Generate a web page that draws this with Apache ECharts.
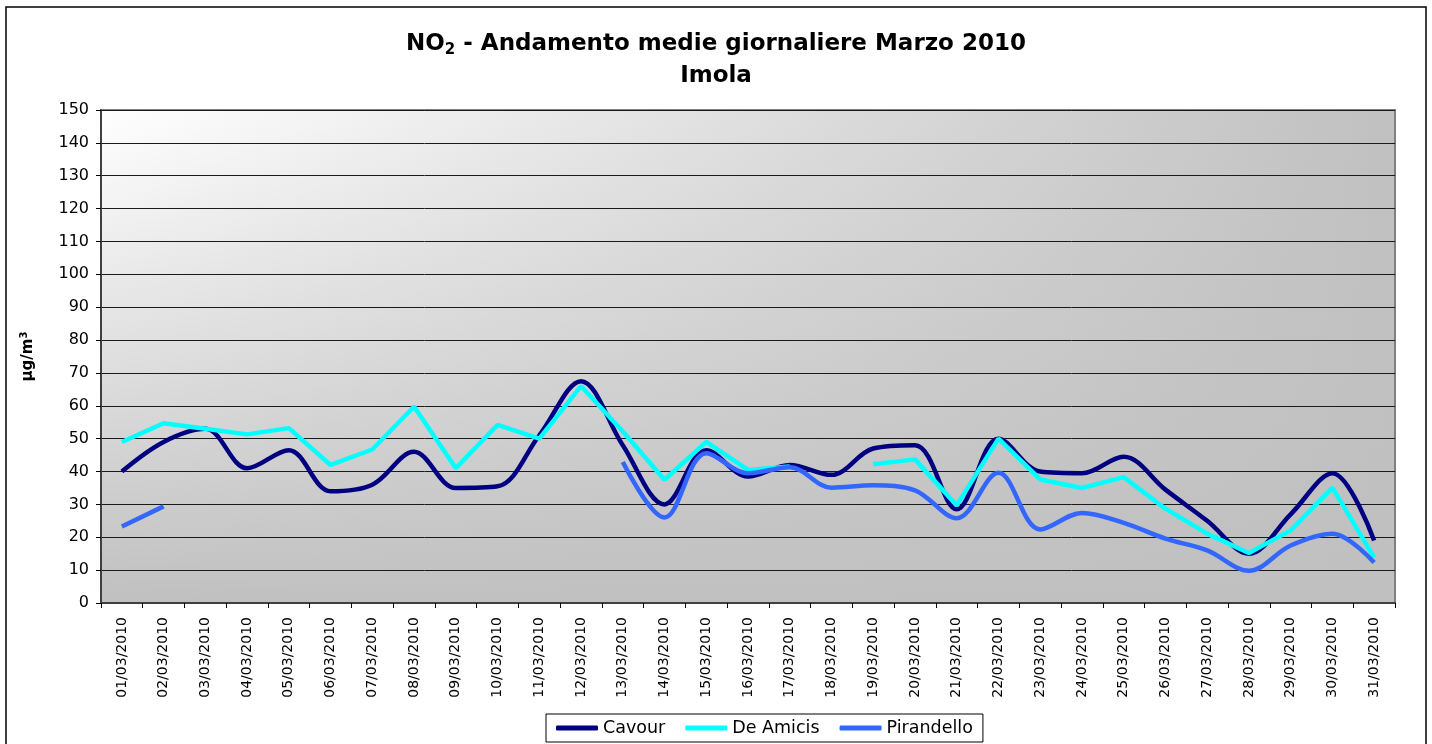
<!DOCTYPE html>
<html>
<head>
<meta charset="utf-8">
<title>NO2 - Andamento medie giornaliere Marzo 2010 - Imola</title>
<script src="https://cdn.jsdelivr.net/npm/echarts@6/dist/echarts.min.js"></script>
<style>
  html, body { margin: 0; padding: 0; background: #fff; }
  #chart { width: 1432px; height: 744px; }
</style>
</head>
<body>
<div id="chart"></div>
<script>
// categories
const days = [
  '01/03/2010', '02/03/2010', '03/03/2010', '04/03/2010', '05/03/2010',
  '06/03/2010', '07/03/2010', '08/03/2010', '09/03/2010', '10/03/2010',
  '11/03/2010', '12/03/2010', '13/03/2010', '14/03/2010', '15/03/2010',
  '16/03/2010', '17/03/2010', '18/03/2010', '19/03/2010', '20/03/2010',
  '21/03/2010', '22/03/2010', '23/03/2010', '24/03/2010', '25/03/2010',
  '26/03/2010', '27/03/2010', '28/03/2010', '29/03/2010', '30/03/2010',
  '31/03/2010'
];

// daily means, µg/m3 (null = no data)
const cavour = [40, 49, 53, 41, 46.5, 34, 36, 46, 35, 35.5, 51, 67.5, 48, 30, 46.5,
  38.5, 42, 39, 47, 48, 28.5, 50, 40, 39.5, 44.5, 34.5, 25, 15, 27, 39.5, 19];
const deAmicis = [49, 54.7, 53, 51.3, 53.2, 42, 46.7, 59.8, 41, 54.2, 50, 66, 52.2, 37.5, 49,
  40.5, 41.5, null, 42.2, 43.7, 29.7, 50, 37.6, 35, 38.3, 28.7, 21.1, 15.2, 22.1, 35.1, 13.8];
const pirandello = [23.3, 29.4, null, null, null, null, null, null, null, null, null, null,
  42.9, 26, 45.6, 39.5, 41.3, 35.1, 35.8, 34.3, 25.8, 39.6, 22.4, 27.4, 24.4, 19.6, 16, 9.8, 17.5, 21.1, 12.3];

const yTicks = { min: 0, max: 150, step: 10 };

const font = 'DejaVu Sans, Liberation Sans, sans-serif';
const plot = { left: 101, top: 110, right: 37, bottom: 141 };
const plotW = 1432 - plot.left - plot.right;
const plotH = 744 - plot.top - plot.bottom;

const chart = echarts.init(document.getElementById('chart'));

const lineSeries = (name, data, color, smooth) => ({
  name: name,
  type: 'line',
  data: data,
  smooth: smooth,
  symbol: 'none',
  showSymbol: false,
  connectNulls: false,
  lineStyle: { color: color, width: 4.5 },
  itemStyle: { color: color },
  emphasis: { disabled: true }
});

const option = {
  animation: false,
  textStyle: { fontFamily: font },
  title: [
    {
      text: '{a|NO}{s|2}{a| - Andamento medie giornaliere Marzo 2010}',
      left: 'center',
      top: 23,
      textStyle: {
        rich: {
          a: { fontFamily: font, fontSize: 23, fontWeight: 'bold', color: '#000', lineHeight: 32 },
          s: { fontFamily: font, fontSize: 15, fontWeight: 'bold', color: '#000', lineHeight: 32, padding: [12, 0, 0, 0] }
        }
      }
    },
    {
      text: 'Imola',
      left: 'center',
      top: 55,
      textStyle: { fontFamily: font, fontSize: 23, fontWeight: 'bold', color: '#000', lineHeight: 32 }
    }
  ],
  graphic: [
    {
      type: 'rect',
      z: -10,
      silent: true,
      shape: { x: plot.left, y: plot.top, width: plotW, height: plotH },
      style: {
        fill: new echarts.graphic.LinearGradient(0, 0, 1, 0, [
          { offset: 0, color: '#ffffff' },
          { offset: 1, color: '#c0c0c0' }
        ])
      }
    },
    {
      type: 'rect',
      z: -9,
      silent: true,
      shape: { x: plot.left, y: plot.top, width: plotW, height: plotH },
      style: {
        fill: new echarts.graphic.LinearGradient(0, 0, 0, 1, [
          { offset: 0, color: 'rgba(192,192,192,0)' },
          { offset: 1, color: 'rgba(192,192,192,1)' }
        ])
      }
    },
    {
      type: 'rect',
      z: 10,
      silent: true,
      shape: { x: 6, y: 7, width: 1420, height: 760 },
      style: { fill: 'none', stroke: '#000', lineWidth: 1.5 }
    }
  ],
  grid: {
    left: plot.left,
    right: plot.right,
    top: plot.top,
    bottom: plot.bottom,
    show: true,
    backgroundColor: 'transparent',
    borderColor: '#808080',
    borderWidth: 2
  },
  legend: {
    left: 546,
    bottom: 2,
    data: ['Cavour', 'De Amicis', 'Pirandello'],
    icon: 'roundRect',
    backgroundColor: '#fff',
    borderColor: '#000',
    borderWidth: 1,
    borderRadius: 0,
    padding: [4, 10, 4, 10],
    itemWidth: 42,
    itemHeight: 5,
    itemGap: 20,
    textStyle: { fontFamily: font, fontSize: 17.5, color: '#000', lineHeight: 20 }
  },
  xAxis: {
    type: 'category',
    data: days,
    boundaryGap: true,
    axisLine: { lineStyle: { color: '#404040', width: 2 } },
    axisTick: { show: true, length: 5, lineStyle: { color: '#000' } },
    axisLabel: { rotate: 90, margin: 14, fontFamily: font, fontSize: 14, color: '#000', interval: 0 },
    splitLine: { show: false }
  },
  yAxis: {
    type: 'value',
    min: yTicks.min,
    max: yTicks.max,
    interval: yTicks.step,
    name: '{u|µg/m}{p|3}',
    nameLocation: 'middle',
    nameRotate: 90,
    nameGap: 63,
    nameTextStyle: {
      rich: {
        u: { fontFamily: font, fontSize: 15, fontWeight: 'bold', color: '#000' },
        p: { fontFamily: font, fontSize: 10, fontWeight: 'bold', color: '#000', padding: [0, 0, 9, 0] }
      }
    },
    axisLine: { show: true, lineStyle: { color: '#404040', width: 2 } },
    axisTick: { show: true, length: 5, lineStyle: { color: '#000' } },
    axisLabel: { margin: 12, fontFamily: font, fontSize: 16, color: '#000' },
    splitLine: { show: true, lineStyle: { color: '#1a1a1a', width: 1 } }
  },
  series: [
    lineSeries('Cavour', cavour, '#000080', 0.35),
    lineSeries('De Amicis', deAmicis, '#00ffff', false),
    lineSeries('Pirandello', pirandello, '#3366ff', 0.35)
  ]
};

chart.setOption(option);
</script>
</body>
</html>
